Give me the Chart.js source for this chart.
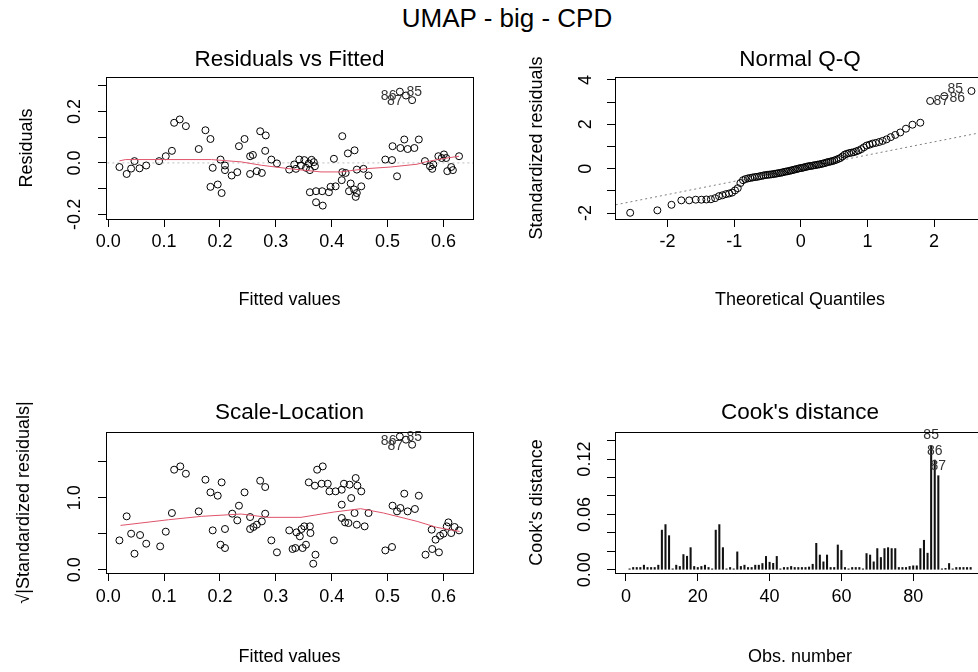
<!DOCTYPE html>
<html>
<head>
<meta charset="utf-8">
<title>UMAP - big - CPD</title>
<script src="https://cdn.jsdelivr.net/npm/chart.js@4.4.1/dist/chart.umd.min.js"></script>
<style>
  html, body { margin: 0; padding: 0; background: #fff; width: 978px; height: 672px; overflow: hidden; }
  #main { position: absolute; top: 3px; left: 0; width: 1014px; text-align: center;
          font: 26px "Liberation Sans", Arial, sans-serif; line-height: 30px; color: #000; }
  canvas { position: absolute; }
  #rvf { left: 0; top: 36px; }
  #qq { left: 489px; top: 36px; }
  #sl { left: 0; top: 391px; }
  #cook { left: 489px; top: 391px; }
</style>
</head>
<body>
<div id="main">UMAP - big - CPD</div>
<canvas id="rvf" width="489" height="300"></canvas>
<canvas id="qq" width="511" height="300"></canvas>
<canvas id="sl" width="489" height="281"></canvas>
<canvas id="cook" width="511" height="281"></canvas>
<script>
// Residuals vs Fitted
var rvfFitted = [0.020, 0.033, 0.041, 0.047, 0.056, 0.068, 0.091, 0.103, 0.114, 0.118, 0.128, 0.139,
  0.162, 0.174, 0.183, 0.183, 0.196, 0.203, 0.201, 0.187, 0.209, 0.209, 0.221, 0.231, 0.234, 0.244,
  0.254, 0.259, 0.254, 0.266, 0.275, 0.272, 0.282, 0.281, 0.292, 0.302, 0.324, 0.333, 0.342, 0.345,
  0.351, 0.354, 0.359, 0.361, 0.368, 0.370, 0.336, 0.364, 0.404, 0.419, 0.429, 0.441, 0.361, 0.372,
  0.383, 0.372, 0.384, 0.395, 0.398, 0.407, 0.418, 0.419, 0.425, 0.434, 0.431, 0.440, 0.443, 0.445,
  0.453, 0.445, 0.457, 0.466, 0.496, 0.508, 0.517, 0.509, 0.523, 0.530, 0.536, 0.548, 0.556, 0.522,
  0.533, 0.544, 0.567, 0.576, 0.580, 0.582, 0.591, 0.597, 0.601, 0.605, 0.607, 0.614, 0.617, 0.628];
var rvfResid = [-0.016, -0.043, -0.022, 0.007, -0.021, -0.010, 0.007, 0.026, 0.047, 0.156, 0.169, 0.143,
  0.054, 0.127, 0.093, -0.093, -0.084, -0.117, 0.013, -0.019, -0.010, -0.028, -0.049, -0.036, 0.065, 0.093,
  0.026, 0.031, -0.043, -0.032, -0.039, 0.123, 0.107, 0.047, 0.013, -0.002, -0.026, -0.006, 0.013, -0.010,
  0.011, -0.019, -0.002, -0.028, 0.003, -0.013, -0.023, 0.012, 0.016, 0.104, 0.037, 0.049, -0.114, -0.110,
  -0.110, -0.153, -0.166, -0.114, -0.093, -0.091, -0.067, -0.036, -0.039, -0.080, -0.110, -0.103, -0.132, -0.117,
  -0.091, -0.026, -0.023, -0.049, 0.013, 0.011, -0.052, 0.065, 0.058, 0.091, 0.054, 0.058, 0.091, 0.277,
  0.262, 0.244, 0.007, -0.013, -0.023, -0.006, 0.026, 0.019, 0.033, 0.019, -0.032, -0.016, -0.028, 0.026];
var rvfSmoothX = [0.020, 0.031, 0.096, 0.185, 0.238, 0.274, 0.322, 0.381, 0.416, 0.464, 0.505, 0.553, 0.568, 0.600, 0.628];
var rvfSmoothY = [0.008, 0.013, 0.013, 0.013, 0.004, -0.009, -0.022, -0.035, -0.035, -0.022, -0.016, -0.005, 0.004, 0.017, 0.026];
var rvfZeroX = [-0.1, 0.8];
var rvfZeroY = [0, 0];
var rvfIds = ['86', '87', '85'];
var rvfIdX = [0.502, 0.513, 0.548];
var rvfIdY = [0.260, 0.240, 0.275];
var fittedTicks = [0, 0.1, 0.2, 0.3, 0.4, 0.5, 0.6];
var fittedTickLabels = ['0.0', '0.1', '0.2', '0.3', '0.4', '0.5', '0.6'];
var rvfYTicks = [-0.2, -0.1, 0, 0.1, 0.2, 0.3];
var rvfYTickLabels = ['-0.2', '', '0.0', '', '0.2', ''];

// Normal Q-Q
var qqTheo = [-2.562, -2.154, -1.942, -1.794, -1.676, -1.578, -1.493, -1.418, -1.350, -1.287, -1.229, -1.176,
  -1.125, -1.077, -1.032, -0.988, -0.947, -0.907, -0.868, -0.831, -0.794, -0.759, -0.725, -0.691, -0.658, -0.626,
  -0.594, -0.563, -0.533, -0.503, -0.474, -0.445, -0.416, -0.388, -0.360, -0.332, -0.305, -0.278, -0.251, -0.224,
  -0.197, -0.171, -0.144, -0.118, -0.092, -0.065, -0.039, -0.013, 0.013, 0.039, 0.065, 0.092, 0.118, 0.144,
  0.171, 0.197, 0.224, 0.251, 0.278, 0.305, 0.332, 0.360, 0.388, 0.416, 0.445, 0.474, 0.503, 0.533, 0.563,
  0.594, 0.626, 0.658, 0.691, 0.725, 0.759, 0.794, 0.831, 0.868, 0.907, 0.947, 0.988, 1.032, 1.077, 1.125,
  1.176, 1.229, 1.287, 1.350, 1.418, 1.493, 1.578, 1.676, 1.794, 1.942, 2.154, 2.562];
var qqStdResid = [-1.99, -1.88, -1.63, -1.43, -1.43, -1.40, -1.40, -1.39, -1.38, -1.33, -1.24, -1.20,
  -1.15, -1.12, -1.08, -0.98, -0.88, -0.65, -0.52, -0.47, -0.44, -0.42, -0.40, -0.38, -0.37, -0.35,
  -0.33, -0.31, -0.29, -0.28, -0.27, -0.26, -0.25, -0.23, -0.22, -0.20, -0.19, -0.17, -0.15, -0.13,
  -0.12, -0.10, -0.08, -0.06, -0.04, -0.02, 0.00, 0.02, 0.03, 0.05, 0.07, 0.09, 0.11, 0.12,
  0.13, 0.15, 0.16, 0.18, 0.19, 0.21, 0.23, 0.25, 0.28, 0.30, 0.32, 0.34, 0.37, 0.40, 0.44,
  0.48, 0.55, 0.63, 0.67, 0.70, 0.72, 0.74, 0.78, 0.82, 0.88, 0.96, 1.04, 1.08, 1.13, 1.16,
  1.20, 1.25, 1.32, 1.42, 1.52, 1.63, 1.80, 1.98, 2.07, 3.05, 3.27, 3.50];
var qqLineX = [-3, 3];
var qqLineY = [-1.76, 1.80];
var qqIds = ['85', '87', '86'];
var qqIdX = [2.32, 2.11, 2.35];
var qqIdY = [3.59, 3.05, 3.16];
var qqXTicks = [-2, -1, 0, 1, 2];
var qqXTickLabels = ['-2', '-1', '0', '1', '2'];
var qqYTicks = [-2, -1, 0, 1, 2, 3, 4];
var qqYTickLabels = ['-2', '', '0', '', '2', '', '4'];

// Scale-Location
var slFitted = [0.020, 0.033, 0.041, 0.047, 0.057, 0.068, 0.093, 0.103, 0.114, 0.118, 0.129, 0.139,
  0.162, 0.174, 0.183, 0.187, 0.196, 0.203, 0.201, 0.209, 0.209, 0.222, 0.231, 0.234, 0.244, 0.254,
  0.254, 0.260, 0.266, 0.275, 0.281, 0.272, 0.281, 0.292, 0.302, 0.324, 0.330, 0.337, 0.343, 0.346,
  0.351, 0.361, 0.362, 0.335, 0.348, 0.354, 0.371, 0.367, 0.404, 0.374, 0.384, 0.359, 0.370, 0.382,
  0.393, 0.396, 0.407, 0.418, 0.422, 0.432, 0.443, 0.446, 0.453, 0.435, 0.418, 0.441, 0.466, 0.418,
  0.424, 0.430, 0.445, 0.459, 0.496, 0.508, 0.509, 0.517, 0.523, 0.530, 0.536, 0.549, 0.556, 0.522,
  0.533, 0.544, 0.568, 0.580, 0.592, 0.579, 0.586, 0.594, 0.600, 0.606, 0.609, 0.614, 0.620, 0.628];
var slSqrtStd = [0.407, 0.741, 0.500, 0.222, 0.481, 0.361, 0.324, 0.528, 0.787, 1.389, 1.435, 1.333,
  0.810, 1.250, 1.074, 0.546, 1.028, 1.213, 0.347, 0.301, 0.565, 0.778, 0.685, 0.889, 1.074, 0.731,
  0.565, 0.593, 0.625, 0.671, 0.778, 1.236, 1.148, 0.407, 0.241, 0.546, 0.287, 0.518, 0.463, 0.565,
  0.602, 0.602, 0.509, 0.301, 0.301, 0.347, 0.208, 0.083, 0.407, 1.389, 1.435, 1.213, 1.167, 1.194,
  1.194, 1.088, 1.088, 1.111, 1.194, 1.181, 1.273, 1.167, 1.088, 0.995, 0.903, 0.787, 0.787, 0.718,
  0.657, 0.648, 0.625, 0.602, 0.268, 0.315, 0.889, 0.810, 0.857, 1.056, 0.810, 0.843, 1.028, 1.850,
  1.806, 1.736, 0.208, 0.287, 0.241, 0.556, 0.417, 0.472, 0.500, 0.602, 0.657, 0.509, 0.593, 0.546];
var slSmoothX = [0.022, 0.108, 0.167, 0.238, 0.286, 0.345, 0.404, 0.452, 0.493, 0.553, 0.588, 0.629];
var slSmoothY = [0.615, 0.694, 0.741, 0.773, 0.727, 0.727, 0.801, 0.847, 0.787, 0.671, 0.588, 0.532];
var slIds = ['86', '87', '85'];
var slIdX = [0.502, 0.514, 0.548];
var slIdY = [1.79, 1.72, 1.84];
var slYTicks = [0, 0.5, 1, 1.5];
var slYTickLabels = ['0.0', '', '1.0', ''];

// Cook's distance
var cookObs = [];
for (var k = 1; k <= 96; k++) cookObs.push(k);
var cookD = [0.001, 0.0025, 0.0025, 0.0025, 0.005, 0.0025, 0.0025, 0.0025, 0.005, 0.043, 0.049, 0.037,
  0.001, 0.005, 0.0036, 0.0165, 0.0147, 0.024, 0.0036, 0.0025, 0.0036, 0.005, 0.0025, 0.001, 0.043, 0.049,
  0.024, 0.001, 0.0025, 0.001, 0.0194, 0.0036, 0.005, 0.0025, 0.0025, 0.005, 0.005, 0.0068, 0.0145, 0.0082,
  0.007, 0.0145, 0.001, 0.0025, 0.0025, 0.0036, 0.0025, 0.0025, 0.0025, 0.0025, 0.003, 0.006, 0.0287, 0.016,
  0.0086, 0.016, 0.0025, 0.0025, 0.0269, 0.021, 0.0025, 0.001, 0.0025, 0.0025, 0.0025, 0.001, 0.0176, 0.016,
  0.0086, 0.023, 0.0133, 0.023, 0.024, 0.023, 0.023, 0.0025, 0.0025, 0.0025, 0.0036, 0.0043, 0.0043, 0.023,
  0.032, 0.018, 0.134, 0.119, 0.102, 0.001, 0.0015, 0.0068, 0.001, 0.0025, 0.0025, 0.0025, 0.0025, 0.0025];
var cookIds = ['85', '86', '87'];
var cookIdX = [85, 86, 87];
var cookIdY = [0.146, 0.129, 0.1126];
var cookXTicks = [0, 20, 40, 60, 80];
var cookXTickLabels = ['0', '20', '40', '60', '80'];
var cookYTicks = [0, 0.02, 0.04, 0.06, 0.08, 0.10, 0.12, 0.14];
var cookYTickLabels = ['0.00', '', '', '0.06', '', '', '0.12', ''];

var FONT = '"Liberation Sans", Arial, sans-serif';

function pairs(xs, ys) {
  return xs.map(function(x, i) { return {x: x, y: ys[i]}; });
}

// R-style box round the plot region
var boxPlugin = {
  id: 'box',
  afterDraw: function(chart) {
    var a = chart.chartArea, ctx = chart.ctx;
    ctx.save();
    ctx.strokeStyle = '#000';
    ctx.lineWidth = 1;
    ctx.strokeRect(Math.round(a.left) + 0.5, Math.round(a.top) + 0.5,
      Math.round(a.right - a.left), Math.round(a.bottom - a.top));
    ctx.restore();
  }
};

// observation numbers of the extreme points
var idPlugin = {
  id: 'ids',
  afterDatasetsDraw: function(chart, args, opts) {
    if (!opts.text) return;
    var xs = chart.scales.x, ys = chart.scales.y, ctx = chart.ctx;
    ctx.save();
    ctx.font = '14px ' + FONT;
    ctx.fillStyle = '#333';
    ctx.textAlign = 'center';
    ctx.textBaseline = 'middle';
    opts.text.forEach(function(t, i) {
      ctx.fillText(t, xs.getPixelForValue(opts.x[i]), ys.getPixelForValue(opts.y[i]));
    });
    ctx.restore();
  }
};

function rAxis(o) {
  var horiz = o.axis === 'x';
  return {
    type: 'linear',
    min: o.min,
    max: o.max,
    offset: false,
    afterBuildTicks: function(scale) {
      scale.ticks = o.ticks.map(function(v) { return {value: v}; });
    },
    afterFit: function(scale) {
      if (horiz) scale.height = o.size; else scale.width = o.size;
    },
    grid: { drawOnChartArea: false, drawTicks: true, tickLength: 8, color: '#000', lineWidth: 1, offset: false },
    border: { display: false },
    ticks: {
      autoSkip: false,
      minRotation: horiz ? 0 : 90,
      maxRotation: horiz ? 0 : 90,
      crossAlign: horiz ? 'near' : 'center',
      padding: o.tickPad,
      color: '#000',
      font: { family: FONT, size: 18 },
      callback: function(v, i) { return o.labels[i]; }
    },
    title: {
      display: true,
      text: o.title,
      color: '#000',
      font: { family: FONT, size: 18 },
      padding: horiz ? { top: 0, bottom: 0 } : { top: o.titlePad, bottom: 0 }
    }
  };
}

function lmPanel(id, o) {
  return new Chart(document.getElementById(id), {
    type: o.type,
    data: { datasets: o.datasets },
    options: {
      responsive: false,
      animation: false,
      devicePixelRatio: 1,
      layout: { padding: { left: 0, top: 0, right: o.padRight, bottom: o.padBottom } },
      plugins: {
        legend: { display: false },
        tooltip: { enabled: false },
        title: {
          display: true,
          fullSize: false,
          text: o.title,
          color: '#000',
          font: { family: FONT, size: 22.5, weight: 'normal' },
          padding: { top: o.titleTop, bottom: o.titleBottom }
        },
        ids: o.ids
      },
      scales: { x: rAxis(o.x), y: rAxis(o.y) }
    },
    plugins: [boxPlugin, idPlugin]
  });
}

function pointSet(xs, ys) {
  return {
    data: pairs(xs, ys), showLine: false, pointRadius: 3.5, pointBorderWidth: 1,
    pointBorderColor: '#000', pointBackgroundColor: 'rgba(0,0,0,0)'
  };
}

function lineSet(xs, ys, color, dash) {
  return {
    data: pairs(xs, ys), showLine: true, pointRadius: 0, borderWidth: 1,
    borderColor: color, borderDash: dash || [], fill: false
  };
}

lmPanel('rvf', {
  type: 'scatter',
  title: 'Residuals vs Fitted',
  titleTop: 10.5, titleBottom: 3.5, padRight: 16, padBottom: 25.2,
  datasets: [
    lineSet(rvfSmoothX, rvfSmoothY, '#DF536B'),
    pointSet(rvfFitted, rvfResid),
    lineSet(rvfZeroX, rvfZeroY, '#BEBEBE', [2, 3])
  ],
  ids: { text: rvfIds, x: rvfIdX, y: rvfIdY },
  x: { axis: 'x', min: -0.004, max: 0.653, ticks: fittedTicks, labels: fittedTickLabels,
       size: 91.8, tickPad: 4.2, title: 'Fitted values' },
  y: { axis: 'y', min: -0.218, max: 0.334, ticks: rvfYTicks, labels: rvfYTickLabels,
       size: 106, tickPad: 7.5, title: 'Residuals', titlePad: 16.2 }
});

lmPanel('qq', {
  type: 'scatter',
  title: 'Normal Q-Q',
  titleTop: 10.5, titleBottom: 3.5, padRight: 15, padBottom: 25.2,
  datasets: [
    pointSet(qqTheo, qqStdResid),
    lineSet(qqLineX, qqLineY, '#7F7F7F', [2, 3])
  ],
  ids: { text: qqIds, x: qqIdX, y: qqIdY },
  x: { axis: 'x', min: -2.79, max: 2.765, ticks: qqXTicks, labels: qqXTickLabels,
       size: 91.8, tickPad: 4.2, title: 'Theoretical Quantiles' },
  y: { axis: 'y', min: -2.27, max: 4.13, ticks: qqYTicks, labels: qqYTickLabels,
       size: 126, tickPad: 13, title: 'Standardized residuals', titlePad: 37.2 }
});

lmPanel('sl', {
  type: 'scatter',
  title: 'Scale-Location',
  titleTop: 8.5, titleBottom: 5.5, padRight: 16, padBottom: 4.2,
  datasets: [
    lineSet(slSmoothX, slSmoothY, '#DF536B'),
    pointSet(slFitted, slSqrtStd)
  ],
  ids: { text: slIds, x: slIdX, y: slIdY },
  x: { axis: 'x', min: -0.004, max: 0.653, ticks: fittedTicks, labels: fittedTickLabels,
       size: 94.8, tickPad: 5.2, title: 'Fitted values' },
  y: { axis: 'y', min: -0.046, max: 1.9125, ticks: slYTicks, labels: slYTickLabels,
       size: 106, tickPad: 10.5, title: '\u221A|Standardized residuals|', titlePad: 13.2 }
});

lmPanel('cook', {
  type: 'bar',
  title: "Cook's distance",
  titleTop: 8.5, titleBottom: 5.5, padRight: 15, padBottom: 4.2,
  datasets: [{
    data: pairs(cookObs, cookD), backgroundColor: '#111', barThickness: 1.4, borderWidth: 0
  }],
  ids: { text: cookIds, x: cookIdX, y: cookIdY },
  x: { axis: 'x', min: -3.06, max: 100, ticks: cookXTicks, labels: cookXTickLabels,
       size: 94.8, tickPad: 5.2, title: 'Obs. number' },
  y: { axis: 'y', min: -0.0035, max: 0.1494, ticks: cookYTicks, labels: cookYTickLabels,
       size: 126, tickPad: 4.5, title: "Cook's distance", titlePad: 37.2 }
});
</script>
</body>
</html>
